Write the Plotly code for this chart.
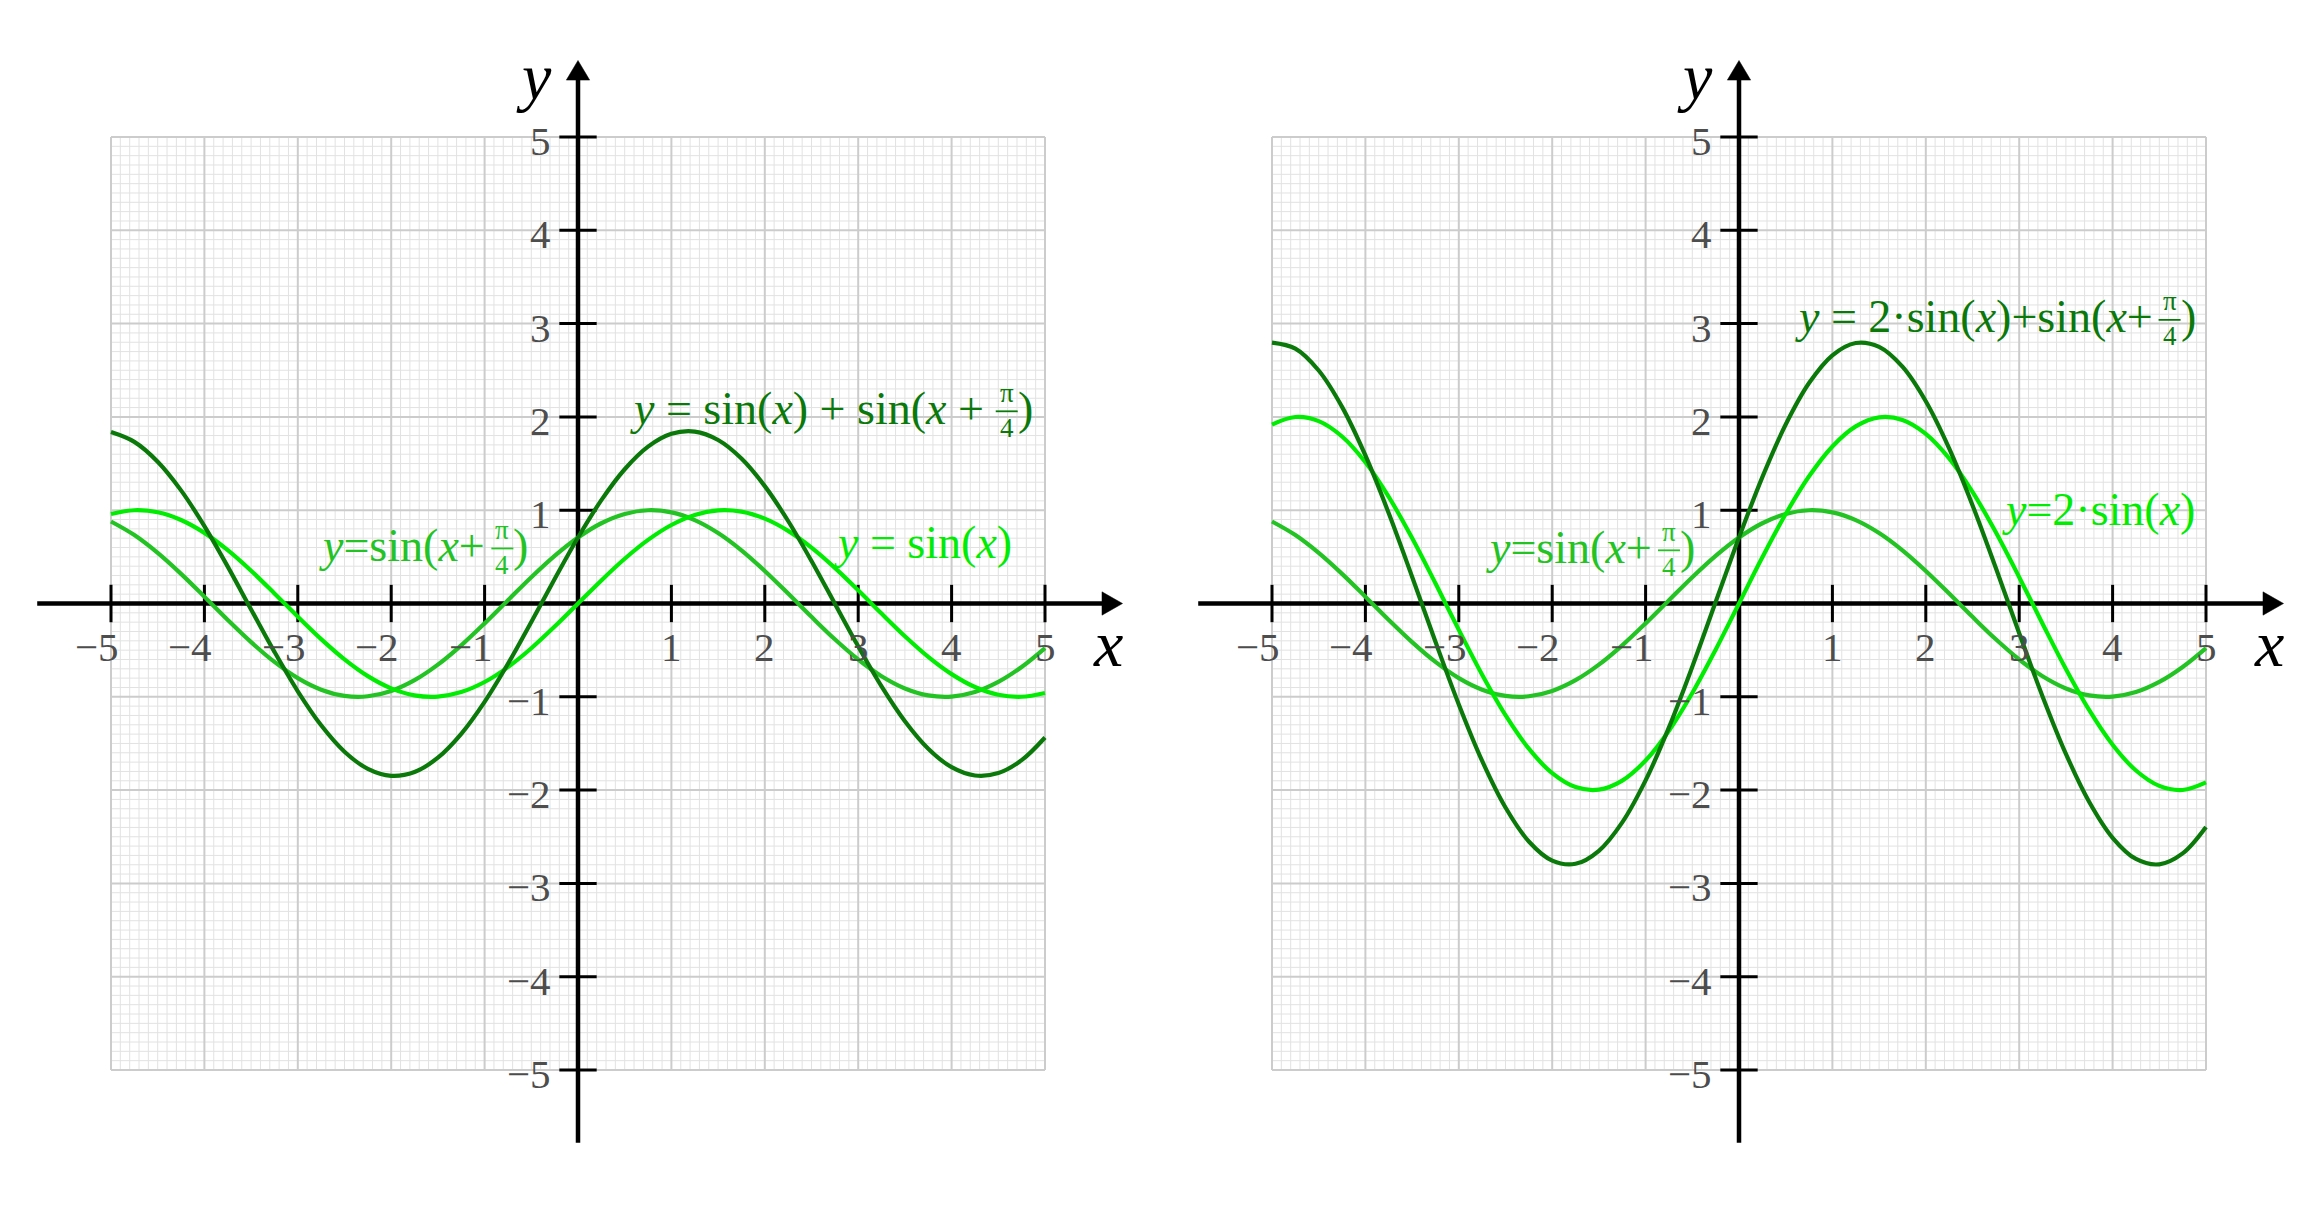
import plotly.graph_objects as go

X_SAMPLES = [-5.0, -4.75, -4.5, -4.25, -4.0, -3.75, -3.5, -3.25, -3.0, -2.75,
             -2.5, -2.25, -2.0, -1.75, -1.5, -1.25, -1.0, -0.75, -0.5, -0.25,
             0.0, 0.25, 0.5, 0.75, 1.0, 1.25, 1.5, 1.75, 2.0, 2.25,
             2.5, 2.75, 3.0, 3.25, 3.5, 3.75, 4.0, 4.25, 4.5, 4.75, 5.0]

SIN_X = [0.9589, 0.9993, 0.9775, 0.8950, 0.7568, 0.5716, 0.3508, 0.1082, -0.1411, -0.3817,
         -0.5985, -0.7781, -0.9093, -0.9840, -0.9975, -0.9490, -0.8415, -0.6816, -0.4794, -0.2474,
         0.0, 0.2474, 0.4794, 0.6816, 0.8415, 0.9490, 0.9975, 0.9840, 0.9093, 0.7781,
         0.5985, 0.3817, 0.1411, -0.1082, -0.3508, -0.5716, -0.7568, -0.8950, -0.9775, -0.9993, -0.9589]

SIN_X_PI4 = [0.8787, 0.7332, 0.5421, 0.3174, 0.0730, -0.1761, -0.4142, -0.6264, -0.7998, -0.9235,
             -0.9897, -0.9944, -0.9372, -0.8218, -0.6553, -0.4481, -0.2130, 0.0354, 0.2816, 0.5102,
             0.7071, 0.8601, 0.9596, 0.9994, 0.9771, 0.8940, 0.7553, 0.5698, 0.3487, 0.1060,
             -0.1433, -0.3837, -0.6003, -0.7794, -0.9103, -0.9844, -0.9973, -0.9483, -0.8403, -0.6800, -0.4774]

SUM_LEFT = [1.8376, 1.7325, 1.5196, 1.2124, 0.8298, 0.3955, -0.0634, -0.5182, -0.9409, -1.3052,
            -1.5882, -1.7725, -1.8465, -1.8058, -1.6528, -1.3971, -1.0545, -0.6462, -0.1978, 0.2628,
            0.7071, 1.1075, 1.4390, 1.6810, 1.8186, 1.8430, 1.7528, 1.5538, 1.2580, 0.8841,
            0.4552, -0.0020, -0.4592, -0.8876, -1.2611, -1.5560, -1.7541, -1.8433, -1.8178, -1.6793, -1.4363]

TWO_SIN_X = [1.9178, 1.9986, 1.9550, 1.7900, 1.5136, 1.1432, 0.7016, 0.2164, -0.2822, -0.7634,
             -1.1970, -1.5562, -1.8186, -1.9680, -1.9950, -1.8980, -1.6830, -1.3632, -0.9588, -0.4948,
             0.0, 0.4948, 0.9588, 1.3632, 1.6830, 1.8980, 1.9950, 1.9680, 1.8186, 1.5562,
             1.1970, 0.7634, 0.2822, -0.2164, -0.7016, -1.1432, -1.5136, -1.7900, -1.9550, -1.9986, -1.9178]

SUM_RIGHT = [2.7965, 2.7318, 2.4971, 2.1074, 1.5866, 0.9671, 0.2874, -0.4100, -1.0820, -1.6869,
             -2.1867, -2.5506, -2.7558, -2.7898, -2.6503, -2.3461, -1.8960, -1.3278, -0.6772, 0.0154,
             0.7071, 1.3549, 1.9184, 2.3626, 2.6601, 2.7920, 2.7503, 2.5378, 2.1673, 1.6622,
             1.0537, 0.3797, -0.3181, -0.9958, -1.6119, -2.1276, -2.5109, -2.7383, -2.7953, -2.6786, -2.3952]

TICK_VALUES = [-5, -4, -3, -2, -1, 1, 2, 3, 4, 5]
TICK_LABELS = ["\u22125", "\u22124", "\u22123", "\u22122", "\u22121", "1", "2", "3", "4", "5"]

# ---------------- style ----------------
DARK = "#0a790a"
MID = "#22c322"
BRIGHT = "#00ec00"
TICK_COLOR = "#4d4d4d"
FONT = "Liberation Serif"
PAGE_OFF = 8                     # default body margin of the html page
W, H = 2318 - 2 * PAGE_OFF, 1210 - 2 * PAGE_OFF
LABEL_SIZE = 46
FRAC_SIZE = 27
TICK_SIZE = 41


def xdom(left_page, right_page):
    return [(left_page - PAGE_OFF) / W, (right_page - PAGE_OFF) / W]


panels = [
    dict(xa="x", ya="y", dom=xdom(17.6, 1138.4),
         curves=[(SIN_X_PI4, MID), (SIN_X, BRIGHT), (SUM_LEFT, DARK)],
         labels=[
             dict(R=4.89, Y=2.06, main="<i>y</i> = sin(<i>x</i>) + sin(<i>x</i> +", frac=True, gap=9, color=DARK),
             dict(R=-0.51, Y=0.59, main="<i>y</i>=sin(<i>x</i>+", frac=True, gap=3, color=MID),
             dict(R=4.67, Y=0.62, main="<i>y</i> = sin(<i>x</i>)", frac=False, gap=0, color=BRIGHT),
         ]),
    dict(xa="x2", ya="y2", dom=xdom(1178.6, 2299.4),
         curves=[(SIN_X_PI4, MID), (TWO_SIN_X, BRIGHT), (SUM_RIGHT, DARK)],
         labels=[
             dict(R=4.91, Y=3.04, main="<i>y</i> = 2\u00b7sin(<i>x</i>)+sin(<i>x</i>+", frac=True, gap=3, color=DARK),
             dict(R=-0.45, Y=0.57, main="<i>y</i>=sin(<i>x</i>+", frac=True, gap=3, color=MID),
             dict(R=4.90, Y=0.98, main="<i>y</i>=2\u00b7sin(<i>x</i>)", frac=False, gap=0, color=BRIGHT),
         ]),
]

top_page, bottom_page = 43.7, 1163.3
Y_DOM = [(H - (bottom_page - PAGE_OFF)) / H, (H - (top_page - PAGE_OFF)) / H]

fig = go.Figure()
annotations = []
shapes = []

for p in panels:
    xa, ya = p["xa"], p["ya"]
    # grid
    for minor in (True, False):
        gx, gy = [], []
        for i in range(101):
            if (i % 10 != 0) != minor:
                continue
            v = -5 + 0.1 * i
            gx += [v, v, None, -5, 5, None]
            gy += [-5, 5, None, v, v, None]
        fig.add_trace(go.Scatter(
            x=gx, y=gy, mode="lines", xaxis=xa, yaxis=ya,
            line=dict(color="#e2e2e2" if minor else "#cccccc", width=1 if minor else 2),
            hoverinfo="skip", showlegend=False))
    # axes
    fig.add_trace(go.Scatter(
        x=[-5.79, 5.66, None, 0, 0], y=[0, 0, None, -5.78, 5.66],
        mode="lines", xaxis=xa, yaxis=ya, line=dict(color="black", width=4.5),
        hoverinfo="skip", showlegend=False))
    tx, ty = [], []
    for t in TICK_VALUES:
        tx += [t, t, None, -0.2, 0.2, None]
        ty += [-0.2, 0.2, None, t, t, None]
    fig.add_trace(go.Scatter(
        x=tx, y=ty, mode="lines", xaxis=xa, yaxis=ya, line=dict(color="black", width=3),
        hoverinfo="skip", showlegend=False))
    # arrowheads
    shapes.append(dict(type="path", xref=xa, yref=ya, path="M 5.61 -0.125 L 5.83 0 L 5.61 0.125 Z",
                       fillcolor="black", line=dict(color="black", width=0.5)))
    shapes.append(dict(type="path", xref=xa, yref=ya, path="M -0.125 5.61 L 0 5.82 L 0.125 5.61 Z",
                       fillcolor="black", line=dict(color="black", width=0.5)))
    # curves
    for vals, col in p["curves"]:
        fig.add_trace(go.Scatter(
            x=X_SAMPLES, y=vals, mode="lines", xaxis=xa, yaxis=ya,
            line=dict(color=col, width=4.2, shape="spline", smoothing=1.0),
            hoverinfo="skip", showlegend=False))
    # tick labels
    for t, lab in zip(TICK_VALUES, TICK_LABELS):
        annotations.append(dict(
            x=t, y=0, xref=xa, yref=ya, text=lab, showarrow=False,
            xanchor="center", yanchor="middle", yshift=-43, xshift=-14 if t < 0 else 0,
            font=dict(family=FONT, size=TICK_SIZE, color=TICK_COLOR)))
        annotations.append(dict(
            x=0, y=t, xref=xa, yref=ya, text=lab, showarrow=False,
            xanchor="right", yanchor="middle", xshift=-25, yshift=-4,
            font=dict(family=FONT, size=TICK_SIZE, color=TICK_COLOR)))
    # axis names
    annotations.append(dict(x=5.67, y=-0.43, xref=xa, yref=ya, text="<i>x</i>", showarrow=False,
                            xanchor="center", yanchor="middle",
                            font=dict(family=FONT, size=66, color="black")))
    annotations.append(dict(x=-0.47, y=5.65, xref=xa, yref=ya, text="<i>y</i>", showarrow=False,
                            xanchor="center", yanchor="middle",
                            font=dict(family=FONT, size=66, color="black")))
    # curve labels
    for lb in p["labels"]:
        col = lb["color"]
        if lb["frac"]:
            annotations.append(dict(x=lb["R"], y=lb["Y"], xref=xa, yref=ya, text=")", showarrow=False,
                                    xanchor="right", yanchor="middle", yshift=3,
                                    font=dict(family=FONT, size=LABEL_SIZE, color=col)))
            annotations.append(dict(x=lb["R"], y=lb["Y"], xref=xa, yref=ya, text="\u03c0<br>4",
                                    showarrow=False, xanchor="center", yanchor="middle",
                                    xshift=-28, yshift=1, align="center",
                                    font=dict(family=FONT, size=FRAC_SIZE, color=col)))
            shapes.append(dict(type="line", xref=xa, yref=ya, xsizemode="pixel", ysizemode="pixel",
                               xanchor=lb["R"], yanchor=lb["Y"], x0=-39, x1=-17, y0=0, y1=0,
                               line=dict(color=col, width=1.8)))
            annotations.append(dict(x=lb["R"], y=lb["Y"], xref=xa, yref=ya, text=lb["main"],
                                    showarrow=False, xanchor="right", yanchor="middle",
                                    xshift=-(40 + lb["gap"]), yshift=3,
                                    font=dict(family=FONT, size=LABEL_SIZE, color=col)))
        else:
            annotations.append(dict(x=lb["R"], y=lb["Y"], xref=xa, yref=ya, text=lb["main"],
                                    showarrow=False, xanchor="right", yanchor="middle", yshift=3,
                                    font=dict(family=FONT, size=LABEL_SIZE, color=col)))

axis_common = dict(range=[-6, 6], visible=False, fixedrange=True, showgrid=False, zeroline=False)
fig.update_layout(
    width=W, height=H,
    margin=dict(l=0, r=0, t=0, b=0),
    paper_bgcolor="white", plot_bgcolor="white",
    xaxis=dict(domain=panels[0]["dom"], anchor="y", **axis_common),
    yaxis=dict(domain=Y_DOM, anchor="x", **axis_common),
    xaxis2=dict(domain=panels[1]["dom"], anchor="y2", **axis_common),
    yaxis2=dict(domain=Y_DOM, anchor="x2", **axis_common),
    annotations=annotations,
    shapes=shapes,
    showlegend=False,
)

fig.write_html("out.html")
